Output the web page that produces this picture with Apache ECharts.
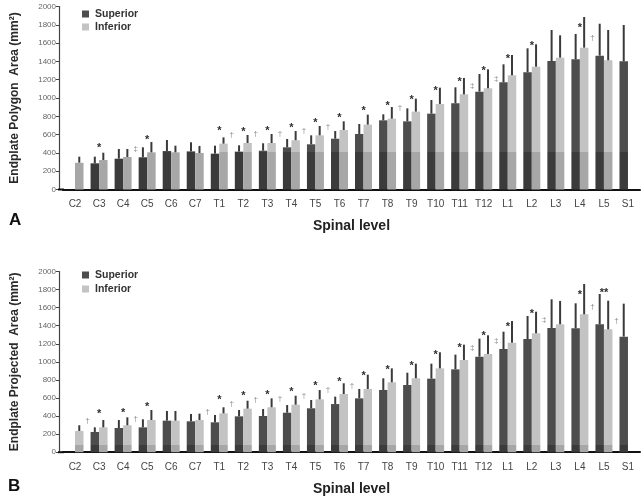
<!DOCTYPE html>
<html>
<head>
<meta charset="utf-8">
<script src="https://cdn.jsdelivr.net/npm/echarts@6/dist/echarts.min.js"></script>
<style>html,body{margin:0;padding:0;background:#fff;}#c{width:644px;height:499px;}</style>
</head>
<body>
<div id="c"></div>
<script>
// ---- data ----
const categories = ['C2','C3','C4','C5','C6','C7','T1','T2','T3','T4','T5','T6','T7','T8','T9','T10','T11','T12','L1','L2','L3','L4','L5','S1'];
const yTicks = [0,200,400,600,800,1000,1200,1400,1600,1800,2000];

// Panel A: endplate polygon area (mean, SD)
const supA   = [null,286,337,352,421,417,392,414,424,461,494,555,607,756,745,829,942,1069,1171,1281,1404,1423,1463,1401];
const supSdA = [null,73,106,109,120,99,87,69,81,91,98,84,109,66,142,149,175,193,197,262,339,277,349,397];
const infA   = [293,322,355,406,406,399,501,508,508,538,592,650,709,774,851,935,1040,1106,1248,1342,1441,1550,1412,null];
const infSdA = [66,80,88,113,73,77,69,88,99,101,102,95,109,128,142,178,179,207,222,245,244,335,331,null];

// Panel B: endplate projected area (mean, SD)
const supB   = [null,224,268,275,349,342,331,397,401,437,486,533,596,689,744,814,917,1057,1142,1253,1375,1371,1416,1279];
const supSdB = [null,51,88,89,107,81,81,70,77,85,92,82,104,129,136,166,163,200,192,255,317,277,335,365];
const infB   = [235,275,298,356,349,356,430,482,497,526,585,644,700,774,818,928,1021,1087,1212,1316,1416,1526,1360,null];
const infSdB = [63,81,88,111,107,71,67,88,99,99,103,119,158,154,162,178,169,207,240,239,258,336,317,null];

// significance marks: [level, height, symbol]
const marksA = [['C3',485,'*'],['C4',448,'‡'],['C5',575,'*'],['T1',672,'*'],['T1',596,'†'],['T2',665,'*'],['T2',607,'†'],
  ['T3',675,'*'],['T3',607,'†'],['T4',705,'*'],['T4',639,'†'],['T5',760,'*'],['T5',683,'†'],['T6',818,'*'],['T7',891,'*'],
  ['T8',945,'*'],['T8',891,'†'],['T9',1011,'*'],['T10',1109,'*'],['T11',1208,'*'],['T11',1131,'‡'],['T12',1328,'*'],
  ['T12',1208,'‡'],['L1',1459,'*'],['L2',1601,'*'],['L4',1798,'*'],['L4',1656,'†']];
const marksB = [['C2',345,'†'],['C3',457,'*'],['C4',467,'*'],['C4',368,'†'],['C5',534,'*'],['C7',451,'†'],['T1',606,'*'],
  ['T1',534,'†'],['T2',659,'*'],['T2',581,'†'],['T3',666,'*'],['T3',592,'†'],['T4',700,'*'],['T4',625,'†'],['T5',766,'*'],
  ['T5',689,'†'],['T6',814,'*'],['T6',736,'†'],['T7',880,'*'],['T8',947,'*'],['T9',987,'*'],['T10',1109,'*'],['T11',1187,'*'],
  ['T11',1154,'‡'],['T12',1320,'*'],['T12',1231,'‡'],['L1',1419,'*'],['L2',1566,'*'],['L2',1463,'‡'],['L4',1777,'*'],
  ['L4',1611,'†'],['L5',1796,'**'],['L5',1452,'†']];

// ---- style ----
const BAR_W = 8.5;
const Y_OFF = 4;
const SUP_C = '#4d4d4d', SUP_LOW = '#3b3b3b';
const INF_C = '#c3c3c3', INF_LOW = '#a7a7a7';
const ERR_C = '#3a3a3a';
const FONT = 'Liberation Sans, Arial, sans-serif';
const bandA = 415, bandB = 75;

function barData(vals, band, cHi, cLo) {
  return vals.map(v => {
    if (v == null) return null;
    const s = Math.max(0, 1 - band / v);
    return { value: v, itemStyle: { color: new echarts.graphic.LinearGradient(0, 0, 0, 1, [
      {offset: 0, color: cHi}, {offset: s, color: cHi}, {offset: s, color: cLo}, {offset: 1, color: cLo}]) } };
  });
}
function errData(vals, sds) {
  const out = [];
  vals.forEach((v, i) => { if (v != null) out.push([i, v, sds[i]]); });
  return out;
}
function errSeries(vals, sds, idx, side) {
  return {
    type: 'custom', xAxisIndex: idx, yAxisIndex: idx, z: 5, silent: true,
    data: errData(vals, sds),
    renderItem: function (params, api) {
      const p = api.coord([api.value(0), api.value(1)]);
      const t = api.coord([api.value(0), api.value(1) + api.value(2)]);
      const x = p[0] + side * BAR_W / 2;
      return { type: 'line', shape: { x1: x, y1: p[1], x2: x, y2: t[1] },
        style: { stroke: ERR_C, lineWidth: 2 } };
    }
  };
}
function markSeries(marks, idx) {
  return {
    type: 'custom', xAxisIndex: idx, yAxisIndex: idx, z: 6, silent: true,
    data: marks.map(m => [categories.indexOf(m[0]), m[1]]),
    renderItem: function (params, api) {
      const sym = marks[params.dataIndex][2];
      const p = api.coord([api.value(0), api.value(1)]);
      const band = api.size([1, 0])[0];
      const isStar = sym.indexOf('*') >= 0;
      return { type: 'text', x: p[0] + (isStar ? 0 : band * 0.52), y: p[1] + (isStar ? 3 : 0),
        style: { text: sym, fill: isStar ? '#2e2e2e' : '#8a8a8a', font: (isStar ? 'bold 11px ' : '8px ') + FONT,
          align: 'center', verticalAlign: 'middle' } };
    }
  };
}
function extSeries(idx) {
  return {
    type: 'custom', xAxisIndex: idx, yAxisIndex: idx, z: 4, silent: true,
    data: [[0, 0]],
    renderItem: function (params, api) {
      const p = api.coord([0, 0]);
      const half = api.size([1, 0])[0] / 2;
      return { type: 'line', shape: { x1: p[0] - half - Y_OFF - 1, y1: p[1], x2: p[0] - half + 1, y2: p[1] },
        style: { stroke: '#111', lineWidth: 2 } };
    }
  };
}
function xAxisCfg(idx) {
  return {
    type: 'category', gridIndex: idx, data: categories, boundaryGap: true,
    axisLine: { lineStyle: { color: '#111', width: 2 } },
    axisTick: { alignWithLabel: true, length: 3, lineStyle: { color: '#333', width: 1.5 } },
    axisLabel: { color: '#444', fontSize: 10, fontFamily: FONT, margin: 10, interval: 0 },
    name: 'Spinal level', nameLocation: 'middle', nameGap: 30,
    nameTextStyle: { fontSize: 14, fontWeight: 'bold', color: '#222', fontFamily: FONT }
  };
}
function yAxisCfg(idx, name) {
  return {
    type: 'value', gridIndex: idx, min: yTicks[0], max: yTicks[yTicks.length - 1], interval: yTicks[1] - yTicks[0],
    offset: Y_OFF,
    axisLine: { show: true, lineStyle: { color: '#444', width: 1.2 } },
    axisTick: { show: true, length: 3, lineStyle: { color: '#444' } },
    splitLine: { show: false },
    axisLabel: { color: '#666', fontSize: 8, fontFamily: FONT, margin: 3, formatter: v => String(v) },
    name: name, nameLocation: 'middle', nameGap: 38, nameRotate: 90,
    nameTextStyle: { fontSize: 12, fontWeight: 'bold', color: '#2a2a2a', fontFamily: FONT }
  };
}

const chart = echarts.init(document.getElementById('c'), null, { renderer: 'canvas' });
chart.setOption({
  backgroundColor: '#fff',
  animation: false,
  title: [
    { text: 'A', left: 4, top: 207, textStyle: { fontSize: 17, fontWeight: 'bold', color: '#111', fontFamily: FONT } },
    { text: 'B', left: 3, top: 473, textStyle: { fontSize: 17, fontWeight: 'bold', color: '#111', fontFamily: FONT } }
  ],
  legend: [
    { data: ['Superior', 'Inferior'], orient: 'vertical', left: 77, top: 3, itemWidth: 7, itemHeight: 7, itemGap: 1, icon: 'rect',
      textStyle: { fontSize: 10.5, fontWeight: 'bold', color: '#333', fontFamily: FONT, lineHeight: 12, padding: [0,0,0,1] } },
    { data: ['Superior', 'Inferior'], orient: 'vertical', left: 77, top: 264, itemWidth: 7, itemHeight: 7, itemGap: 2, icon: 'rect',
      textStyle: { fontSize: 10.5, fontWeight: 'bold', color: '#333', fontFamily: FONT, lineHeight: 12, padding: [0,0,0,1] } }
  ],
  grid: [
    { left: 63, right: 4, top: 6.5, height: 183 },
    { left: 63, right: 4, top: 271.5, height: 180.7 }
  ],
  xAxis: [xAxisCfg(0), xAxisCfg(1)],
  yAxis: [yAxisCfg(0, 'Endplate Polygon  Area (mm²)'), yAxisCfg(1, 'Endplate Projected  Area (mm²)')],
  series: [
    { name: 'Superior', type: 'bar', xAxisIndex: 0, yAxisIndex: 0, barWidth: BAR_W, barGap: '0%', itemStyle: { color: SUP_C },
      data: barData(supA, bandA, SUP_C, SUP_LOW) },
    { name: 'Inferior', type: 'bar', xAxisIndex: 0, yAxisIndex: 0, barWidth: BAR_W, barGap: '0%', itemStyle: { color: INF_C },
      data: barData(infA, bandA, INF_C, INF_LOW) },
    { name: 'Superior', type: 'bar', xAxisIndex: 1, yAxisIndex: 1, barWidth: BAR_W, barGap: '0%', itemStyle: { color: SUP_C },
      data: barData(supB, bandB, SUP_C, SUP_LOW) },
    { name: 'Inferior', type: 'bar', xAxisIndex: 1, yAxisIndex: 1, barWidth: BAR_W, barGap: '0%', itemStyle: { color: INF_C },
      data: barData(infB, bandB, INF_C, INF_LOW) },
    errSeries(supA, supSdA, 0, -1), errSeries(infA, infSdA, 0, 1),
    errSeries(supB, supSdB, 1, -1), errSeries(infB, infSdB, 1, 1),
    markSeries(marksA, 0), markSeries(marksB, 1),
    extSeries(0), extSeries(1)
  ]
});
</script>
</body>
</html>
